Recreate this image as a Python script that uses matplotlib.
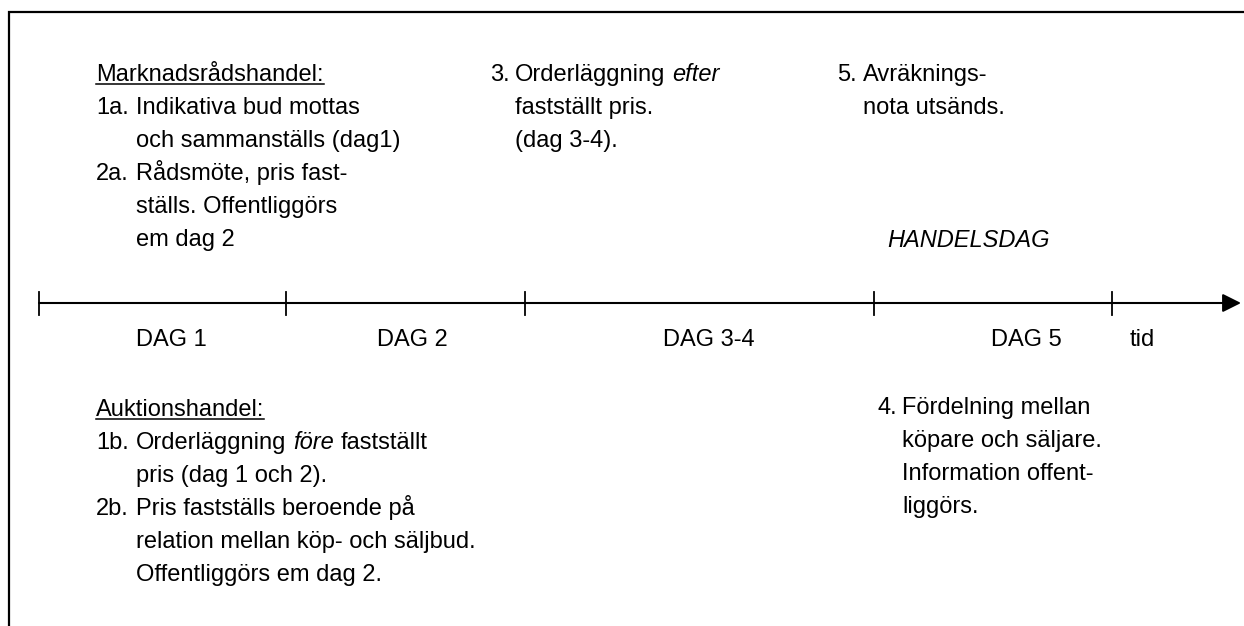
import matplotlib
matplotlib.use("Agg")
import matplotlib.pyplot as plt

plt.rcParams["font.family"] = ["Liberation Sans", "DejaVu Sans"]

# Timeline: day boundaries (pixel positions along the axis) and labels
day_bounds = [39, 286, 525, 874, 1112]
day_labels = ["DAG 1", "DAG 2", "DAG 3-4", "DAG 5", "tid"]
day_label_x = [136, 377, 663, 991, 1130]

# Text blocks: heading, then (number, lines). *word* = italic
council_heading = "Marknadsrådshandel:"
council_items = [
    ("1a.", ["Indikativa bud mottas", "och sammanställs (dag1)"]),
    ("2a.", ["Rådsmöte, pris fast-", "ställs. Offentliggörs", "em dag 2"]),
]
auction_heading = "Auktionshandel:"
auction_items = [
    ("1b.", ["Orderläggning *före* fastställt", "pris (dag 1 och 2)."]),
    ("2b.", ["Pris fastställs beroende på", "relation mellan köp- och säljbud.",
             "Offentliggörs em dag 2."]),
]
step3 = ("3.", ["Orderläggning *efter*", "fastställt pris.", "(dag 3-4)."])
step5 = ("5.", ["Avräknings-", "nota utsänds."])
step4 = ("4.", ["Fördelning mellan", "köpare och säljare.", "Information offent-", "liggörs."])
trade_day = "HANDELSDAG"

FS = 17
LINE = 33

fig = plt.figure(figsize=(12.44, 6.26), dpi=100)
ax = fig.add_axes([0, 0, 1, 1])
ax.set_xlim(0, 1244)
ax.set_ylim(626, 0)
ax.axis("off")
renderer = fig.canvas.get_renderer()
space_px = 0.278 * FS / 0.72


def rich_line(x, y, line):
    """Draw a line of text where *...* parts are italic."""
    cur = x
    for i, part in enumerate(line.split("*")):
        part = part.strip()
        if not part:
            continue
        t = ax.text(cur, y, part, fontsize=FS, va="baseline", ha="left",
                    style="italic" if i % 2 else "normal")
        cur += t.get_window_extent(renderer).width + space_px


def block(x_num, x_body, y0, item):
    num, lines = item
    ax.text(x_num, y0, num, fontsize=FS, va="baseline", ha="left")
    for k, ln in enumerate(lines):
        rich_line(x_body, y0 + k * LINE, ln)
    return y0 + len(lines) * LINE


def heading(x, y, s):
    t = ax.text(x, y, s, fontsize=FS, va="baseline", ha="left")
    bb = t.get_window_extent(renderer)
    ax.plot([x, x + bb.width], [y + 3, y + 3], color="black", lw=1.1)


# frame (top and left edges)
ax.plot([9, 9, 1244], [626, 12, 12], color="black", lw=1.6, solid_joinstyle="miter")

# timeline with arrow
y_axis = 303
ax.annotate("", xy=(1241, y_axis), xytext=(day_bounds[0], y_axis),
            arrowprops=dict(arrowstyle="-|>", mutation_scale=28, lw=1.5,
                            color="black", shrinkA=0, shrinkB=0))
for b in day_bounds:
    ax.plot([b, b], [y_axis - 11, y_axis + 12], color="black", lw=1.3)
for lx, lab in zip(day_label_x, day_labels):
    ax.text(lx, y_axis + 43, lab, fontsize=FS, va="baseline", ha="left")

# upper left: council trading
y = 81
heading(96, y, council_heading)
y += LINE
for it in council_items:
    y = block(96, 136, y, it)

# lower left: auction trading
y = 416
heading(96, y, auction_heading)
y += LINE
for it in auction_items:
    y = block(96, 136, y, it)

block(490, 515, 81, step3)
block(837, 863, 81, step5)
block(877, 902, 414, step4)
ax.text(887, 247, trade_day, fontsize=FS, style="italic", va="baseline", ha="left")

fig.savefig("out.png", dpi=100)
